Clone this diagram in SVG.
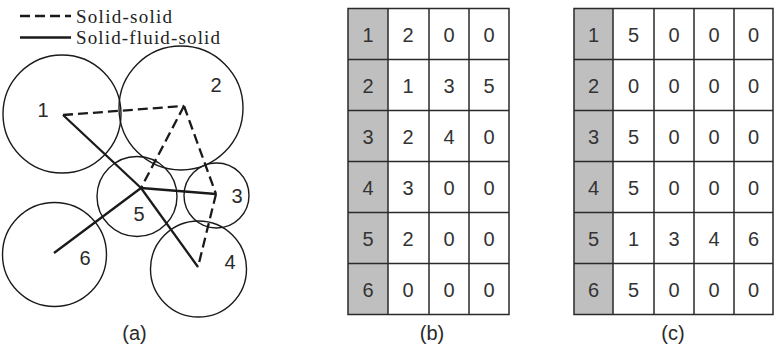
<svg xmlns="http://www.w3.org/2000/svg" width="780" height="349" viewBox="0 0 780 349">
<style>
.c{fill:none;stroke:#1a1a1a;stroke-width:1.4}
.lbl{font-family:"Liberation Sans",Arial,sans-serif;font-size:20px;fill:#2a2a2a;text-anchor:middle}
.cap{font-family:"Liberation Sans",Arial,sans-serif;font-size:20px;fill:#2a2a2a;text-anchor:middle}
.leg{font-family:"Liberation Serif","Times New Roman",serif;font-size:19px;fill:#222}
.sfs{fill:none;stroke:#1a1a1a;stroke-width:2.3;stroke-linecap:butt}
.ss{fill:none;stroke:#1a1a1a;stroke-width:2.3;stroke-dasharray:10 5}
.grid{fill:none;stroke:#2a2a2a;stroke-width:1.5}
.hd{fill:#bfbfbf}
.num{font-family:"Liberation Sans",Arial,sans-serif;font-size:20px;fill:#333;text-anchor:middle}
</style>
<rect width="780" height="349" fill="#fff"/>

<g id="legend">
  <line x1="20" y1="16" x2="71" y2="16" class="ss" stroke-dasharray="12 5"/>
  <text x="76" y="22.5" class="leg" textLength="96" lengthAdjust="spacing">Solid-solid</text>
  <line x1="20" y1="37.5" x2="71" y2="37.5" class="sfs"/>
  <text x="76" y="43.5" class="leg" textLength="144" lengthAdjust="spacing">Solid-fluid-solid</text>
</g>

<g id="n1"><circle cx="62" cy="114" r="59" class="c"/><text x="43" y="117" class="lbl">1</text></g>
<g id="n2"><circle cx="181" cy="108" r="62" class="c"/><text x="216" y="92" class="lbl">2</text></g>
<g id="n3"><circle cx="216.5" cy="195.5" r="32.5" class="c"/><text x="237" y="203" class="lbl">3</text></g>
<g id="n4"><circle cx="198.5" cy="269" r="48" class="c"/><text x="230" y="269" class="lbl">4</text></g>
<g id="n5"><circle cx="137" cy="196.5" r="40" class="c"/><text x="139" y="221" class="lbl">5</text></g>
<g id="n6"><circle cx="54.5" cy="254.5" r="52" class="c"/><text x="85" y="265" class="lbl">6</text></g>

<g id="connectors">
  <line x1="63" y1="115" x2="184" y2="106" class="ss"/>
  <line x1="184" y1="106" x2="141" y2="188" class="ss"/>
  <line x1="184" y1="106" x2="216" y2="194" class="ss"/>
  <line x1="216" y1="194" x2="198" y2="267" class="ss"/>
  <line x1="63" y1="115" x2="141" y2="188" class="sfs"/>
  <line x1="141" y1="188" x2="216" y2="194" class="sfs"/>
  <line x1="141" y1="188" x2="198" y2="267" class="sfs"/>
  <line x1="141" y1="188" x2="54" y2="253" class="sfs"/>
</g>
<text x="134.5" y="340" class="cap">(a)</text>

<g id="table-b">
  <rect x="348" y="8.5" width="40" height="306" class="hd"/>
  <rect x="348" y="8.5" width="161" height="306" class="grid"/>
  <path class="grid" d="M388 8.5V314.5M429 8.5V314.5M469 8.5V314.5M348 59.5H509M348 110.5H509M348 161.5H509M348 212.5H509M348 263.5H509"/>
  <g class="num">
    <text x="368" y="41.5">1</text><text x="408" y="41.5">2</text><text x="449" y="41.5">0</text><text x="489" y="41.5">0</text>
    <text x="368" y="92.5">2</text><text x="408" y="92.5">1</text><text x="449" y="92.5">3</text><text x="489" y="92.5">5</text>
    <text x="368" y="143.5">3</text><text x="408" y="143.5">2</text><text x="449" y="143.5">4</text><text x="489" y="143.5">0</text>
    <text x="368" y="194.5">4</text><text x="408" y="194.5">3</text><text x="449" y="194.5">0</text><text x="489" y="194.5">0</text>
    <text x="368" y="245.5">5</text><text x="408" y="245.5">2</text><text x="449" y="245.5">0</text><text x="489" y="245.5">0</text>
    <text x="368" y="296.5">6</text><text x="408" y="296.5">0</text><text x="449" y="296.5">0</text><text x="489" y="296.5">0</text>
  </g>
</g>
<text x="432" y="340" class="cap">(b)</text>

<g id="table-c">
  <rect x="574" y="8.5" width="39" height="306" class="hd"/>
  <rect x="574" y="8.5" width="199" height="306" class="grid"/>
  <path class="grid" d="M613 8.5V314.5M654 8.5V314.5M694 8.5V314.5M734 8.5V314.5M574 59.5H773M574 110.5H773M574 161.5H773M574 212.5H773M574 263.5H773"/>
  <g class="num">
    <text x="593.5" y="41.5">1</text><text x="633.5" y="41.5">5</text><text x="674" y="41.5">0</text><text x="714" y="41.5">0</text><text x="753.5" y="41.5">0</text>
    <text x="593.5" y="92.5">2</text><text x="633.5" y="92.5">0</text><text x="674" y="92.5">0</text><text x="714" y="92.5">0</text><text x="753.5" y="92.5">0</text>
    <text x="593.5" y="143.5">3</text><text x="633.5" y="143.5">5</text><text x="674" y="143.5">0</text><text x="714" y="143.5">0</text><text x="753.5" y="143.5">0</text>
    <text x="593.5" y="194.5">4</text><text x="633.5" y="194.5">5</text><text x="674" y="194.5">0</text><text x="714" y="194.5">0</text><text x="753.5" y="194.5">0</text>
    <text x="593.5" y="245.5">5</text><text x="633.5" y="245.5">1</text><text x="674" y="245.5">3</text><text x="714" y="245.5">4</text><text x="753.5" y="245.5">6</text>
    <text x="593.5" y="296.5">6</text><text x="633.5" y="296.5">5</text><text x="674" y="296.5">0</text><text x="714" y="296.5">0</text><text x="753.5" y="296.5">0</text>
  </g>
</g>
<text x="673" y="340" class="cap">(c)</text>
</svg>
